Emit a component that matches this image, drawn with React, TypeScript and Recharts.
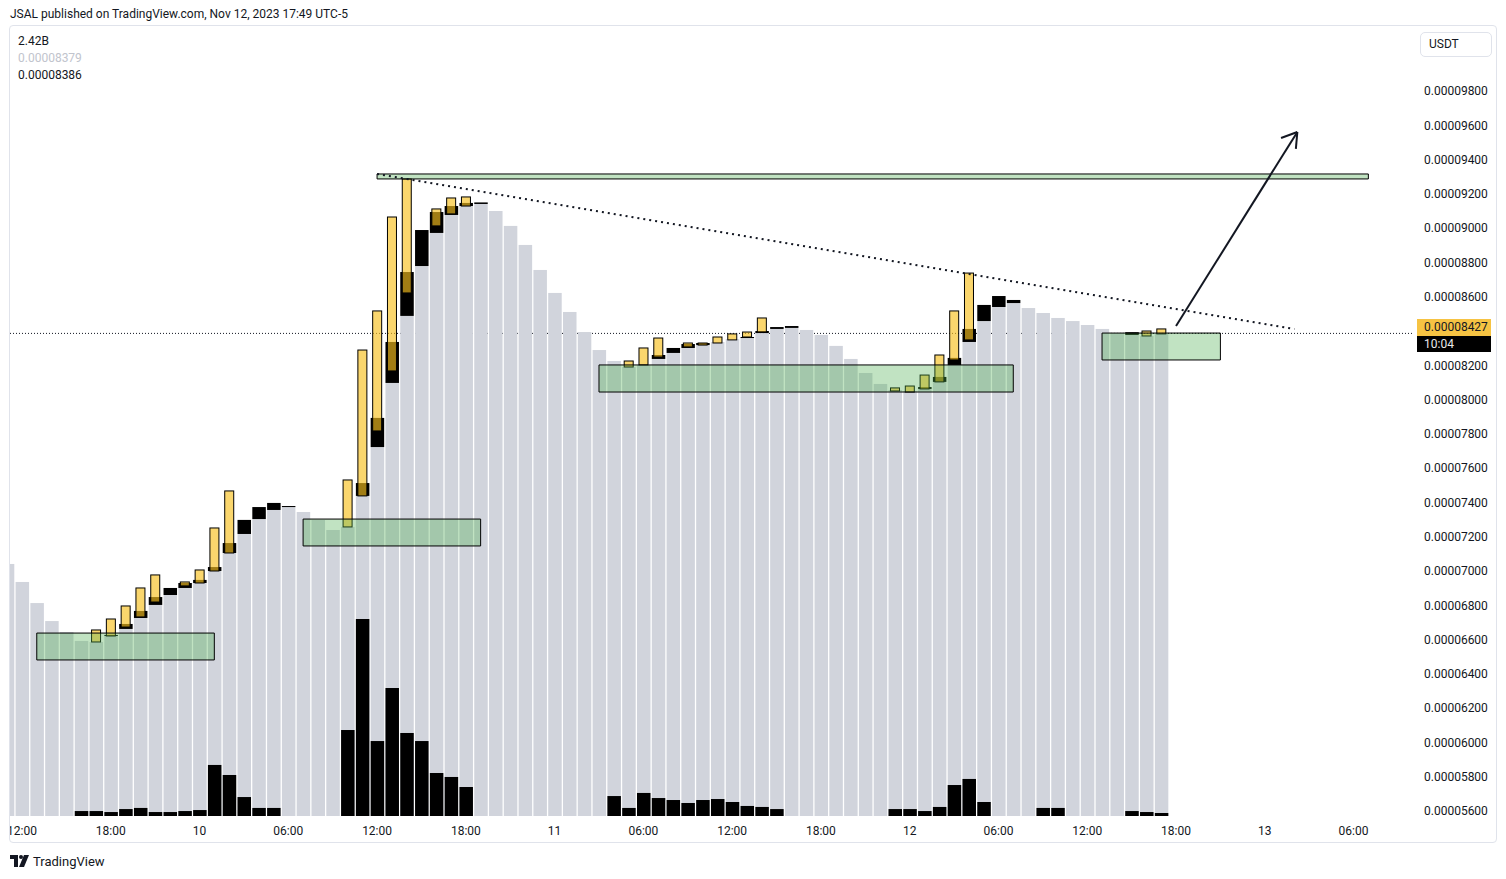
import React from 'react'
import { ComposedChart, Bar, XAxis, YAxis, ReferenceLine, ReferenceArea } from 'recharts'

// prices are in units of 0.00000001 USDT, one entry per hourly bar starting Nov 9 11:00
const CLOSE = [
  7041, 6936, 6813, 6708, 6644, 6592, 6586, 6621, 6662, 6726,
  6802, 6860, 6901, 6930, 7000, 7105, 7216, 7303, 7356, 7373,
  7344, 7298, 7239, 7257, 7438, 7723, 8097, 8488, 8779, 8972,
  9077, 9129, 9141, 9100, 9013, 8902, 8756, 8622, 8511, 8394,
  8289, 8225, 8190, 8202, 8237, 8272, 8301, 8318, 8336, 8353,
  8359, 8388, 8412, 8418, 8406, 8377, 8313, 8237, 8155, 8091,
  8056, 8050, 8062, 8103, 8202, 8336, 8458, 8540, 8563, 8534,
  8505, 8476, 8458, 8435, 8412, 8388, 8377, 8371, 8386,
]
// [bar, top of the black body]
const BODY_TOP: [number, number][] = [
  [7, 6627], [8, 6691], [9, 6767], [10, 6848], [11, 6901], [12, 6930], [13, 6948], [14, 7023],
  [15, 7163], [16, 7298], [17, 7373], [18, 7397], [19, 7379], [24, 7513], [25, 7893], [26, 8336],
  [27, 8744], [28, 8989], [29, 9094], [30, 9129], [31, 9147], [32, 9150], [44, 8260], [45, 8301],
  [46, 8324], [47, 8330], [50, 8365], [51, 8400], [52, 8423], [53, 8429], [62, 8073], [63, 8132],
  [64, 8243], [65, 8412], [66, 8552], [67, 8604], [68, 8581], [76, 8393],
]
// [bar, low, high] of the yellow candles
const CANDLE: [number, number, number][] = [
  [6, 6586, 6656], [7, 6621, 6720], [8, 6673, 6796], [9, 6732, 6901], [10, 6819, 6977],
  [12, 6913, 6936], [13, 6930, 7006], [14, 7000, 7251], [15, 7105, 7467], [23, 7257, 7531],
  [24, 7438, 8289], [25, 7817, 8517], [26, 8167, 9065], [27, 8622, 9287], [29, 9013, 9112],
  [30, 9083, 9176], [31, 9129, 9182], [42, 8190, 8225], [43, 8202, 8301], [44, 8248, 8359],
  [46, 8307, 8330], [47, 8318, 8330], [48, 8330, 8365], [49, 8348, 8383], [50, 8365, 8394],
  [51, 8394, 8476], [60, 8050, 8068], [61, 8044, 8079], [62, 8062, 8143], [63, 8103, 8260],
  [64, 8231, 8517], [65, 8348, 8738], [77, 8371, 8400], [78, 8383, 8412],
]
// [bar, volume in billions]
const VOLUME: [number, number][] = [
  [5, 4.0], [6, 4.0], [7, 3.2], [8, 5.6], [9, 6.5], [10, 3.2], [11, 3.2], [12, 4.0], [13, 4.8],
  [14, 41.2], [15, 33.1], [16, 15.3], [17, 6.5], [18, 6.5], [23, 69.4], [24, 159], [25, 60.5],
  [26, 103.3], [27, 67], [28, 60.5], [29, 34.7], [30, 31.5], [31, 23.4], [41, 16.1], [42, 6.5],
  [43, 18.6], [44, 14.5], [45, 12.9], [46, 10.5], [47, 12.9], [48, 13.7], [49, 11.3], [50, 8.1],
  [51, 7.3], [52, 5.6], [60, 5.6], [61, 5.6], [62, 4.0], [63, 7.3], [64, 25], [65, 29.9],
  [66, 11.3], [70, 6.5], [71, 6.5], [76, 4.0], [77, 3.2], [78, 2.42],
]
const TIME_TICKS = [1, 7, 13, 19, 25, 31, 37, 43, 49, 55, 61, 67, 73, 79, 85, 91]
const TIME_LABELS = ['12:00', '18:00', '10', '06:00', '12:00', '18:00', '11', '06:00', '12:00', '18:00', '12', '06:00', '12:00', '18:00', '13', '06:00']
// 8400 is hidden behind the last-price badge
const PRICE_TICKS = [5600, 5800, 6000, 6200, 6400, 6600, 6800, 7000, 7200, 7400, 7600, 7800, 8000, 8200, 8600, 8800, 9000, 9200, 9400, 9600, 9800]
// [x1, x2, y1, y2] demand zones
const ZONES: [number, number, number, number][] = [
  [2, 14, 6481, 6638], [20, 32, 7146, 7303], [40, 68, 8044, 8202], [74, 82, 8231, 8388],
]
const RESIST: [number, number, number, number] = [25, 92, 9287, 9316]
const TREND: [number, number][] = [[25, 9316], [87, 8412]]
const ARROW: [number, number][] = [[79, 8429], [87.2, 9561]]
const ARROW_HEAD: [number, number][] = [[86.1, 9526], [87.1, 9462]]
const LAST_CLOSE = 8386

const Y_DOMAIN: [number, number] = [5570.8, 10167.5]
const X_DOMAIN: [number, number] = [0.19, 94.95]
const VOL_DOMAIN: [number, number] = [0, 636]

const bodyMap = new Map(BODY_TOP.map(([i, v]) => [i, v]))
const candleMap = new Map(CANDLE.map(([i, lo, hi]) => [i, [lo, hi]]))
const volMap = new Map(VOLUME.map(([i, v]) => [i, v]))

const rows = CLOSE.map((c, i) => ({
  h: i,
  col: [Y_DOMAIN[0], c],
  body: bodyMap.has(i) ? [c, bodyMap.get(i)] : null,
  candle: candleMap.get(i) ?? null,
  vol: volMap.get(i) ?? null,
}))

const fmtPrice = (v: number) => (v / 1e8).toFixed(8)
const ink = '#131722'

const mark = (key: string, fill: string, stroke?: string) => (p: any) => {
  if (p.payload == null || p.payload[key] == null || !(p.height > 0)) return <g />
  return <rect x={p.x} y={p.y} width={p.width} height={p.height} fill={fill} stroke={stroke} strokeWidth={stroke ? 1 : 0} />
}

function TimeTick({ x, y, payload, index }: any) {
  const id = `tclip${index}`
  return (
    <g>
      <clipPath id={id}><rect x={10} y={y - 10} width={1402} height={30} /></clipPath>
      <text x={x} y={y} dy="0.71em" textAnchor="middle" fill={ink} fontSize={12} clipPath={`url(#${id})`}>
        {TIME_LABELS[TIME_TICKS.indexOf(payload.value)]}
      </text>
    </g>
  )
}

const abs = (left: number, top: number, extra: React.CSSProperties = {}): React.CSSProperties => ({
  position: 'absolute', left, top, fontSize: 12, lineHeight: '14px', color: ink, whiteSpace: 'nowrap', ...extra,
})

export default function App() {
  return (
    <div style={{ position: 'absolute', left: 0, top: 0, width: 1506, height: 879, background: '#fff', fontFamily: 'Roboto, sans-serif', overflow: 'hidden' }}>
      <div style={abs(10, 7)}>JSAL published on TradingView.com, Nov 12, 2023 17:49 UTC-5</div>
      <div style={{ position: 'absolute', left: 9, top: 25, width: 1488, height: 818, border: '1px solid #e0e3eb', borderRadius: 4, boxSizing: 'border-box' }} />

      <div style={{ position: 'absolute', left: 0, top: 0 }}>
        <ComposedChart width={1506} height={879} data={rows} margin={{ top: 28, left: 10, right: 10, bottom: 36 }}>
          <XAxis dataKey="h" type="number" domain={X_DOMAIN} allowDataOverflow ticks={TIME_TICKS} interval={0}
            axisLine={false} tickLine={false} tickSize={0} tickMargin={10} height={27} tick={<TimeTick />} />
          <XAxis xAxisId="body" dataKey="h" type="number" domain={X_DOMAIN} allowDataOverflow hide />
          <XAxis xAxisId="vol" dataKey="h" type="number" domain={X_DOMAIN} allowDataOverflow hide />
          <XAxis xAxisId="candle" dataKey="h" type="number" domain={X_DOMAIN} allowDataOverflow hide />
          <YAxis orientation="right" domain={Y_DOMAIN} allowDataOverflow ticks={PRICE_TICKS} interval={0} width={84}
            axisLine={false} tickLine={false} tickSize={0} tickMargin={12} tickFormatter={fmtPrice}
            tick={{ fill: ink, fontSize: 12 }} />
          <YAxis yAxisId="vol" domain={VOL_DOMAIN} allowDataOverflow hide />

          <ReferenceLine y={LAST_CLOSE} stroke={ink} strokeWidth={1} strokeDasharray="1 2" zIndex={50} />

          <Bar dataKey="col" barSize={13.5} isAnimationActive={false} shape={mark('col', '#d1d4dc')} zIndex={300} />
          <Bar xAxisId="body" dataKey="body" barSize={13.5} isAnimationActive={false} shape={mark('body', '#000')} zIndex={310} />
          <Bar xAxisId="vol" yAxisId="vol" dataKey="vol" barSize={13.5} isAnimationActive={false} shape={mark('vol', '#000')} zIndex={310} />
          <Bar xAxisId="candle" dataKey="candle" barSize={9} isAnimationActive={false} shape={mark('candle', 'rgba(248,192,31,0.65)', '#000')} zIndex={320} />

          {ZONES.map(([x1, x2, y1, y2], i) => (
            <ReferenceArea key={i} x1={x1} x2={x2} y1={y1} y2={y2} fill="rgba(76,175,80,0.35)" fillOpacity={1} stroke="#000" strokeWidth={1} zIndex={700} />
          ))}
          <ReferenceArea x1={RESIST[0]} x2={RESIST[1]} y1={RESIST[2]} y2={RESIST[3]} fill="rgba(76,175,80,0.35)" fillOpacity={1} stroke="#000" strokeWidth={1} zIndex={700} />

          <ReferenceLine segment={TREND.map(([x, y]) => ({ x, y }))} stroke={ink} strokeWidth={2} strokeDasharray="2 4" zIndex={800} />
          <ReferenceLine segment={ARROW.map(([x, y]) => ({ x, y }))} stroke={ink} strokeWidth={2} zIndex={800} />
          {ARROW_HEAD.map(([x, y], i) => (
            <ReferenceLine key={i} segment={[{ x, y }, { x: ARROW[1][0], y: ARROW[1][1] }]} stroke={ink} strokeWidth={2} zIndex={800} />
          ))}
        </ComposedChart>
      </div>

      <div style={abs(18, 34)}>2.42B</div>
      <div style={abs(18, 51, { color: '#c1c4cd' })}>0.00008379</div>
      <div style={abs(18, 68)}>0.00008386</div>

      <div style={{ position: 'absolute', left: 1420, top: 32, width: 72, height: 25, border: '1px solid #e0e3eb', borderRadius: 5, boxSizing: 'border-box', fontSize: 12, lineHeight: '23px', paddingLeft: 8, color: ink }}>USDT</div>
      <div style={abs(1417, 319, { width: 74, height: 17, lineHeight: '17px', background: '#f6c343', paddingLeft: 7, boxSizing: 'border-box' })}>0.00008427</div>
      <div style={abs(1417, 336, { width: 74, height: 16, lineHeight: '16px', background: '#000', color: '#e8e8e8', paddingLeft: 7, boxSizing: 'border-box' })}>10:04</div>

      <svg style={{ position: 'absolute', left: 10, top: 855 }} width={20} height={13} viewBox="0 0 20 13">
        <path d="M0 0h8v12H4V4H0z" fill={ink} />
        <circle cx={11} cy={2} r={2} fill={ink} />
        <path d="M14 0h5l-5 12h-5z" fill={ink} />
      </svg>
      <div style={abs(33, 854, { fontSize: 13, lineHeight: '15px' })}>TradingView</div>
    </div>
  )
}
